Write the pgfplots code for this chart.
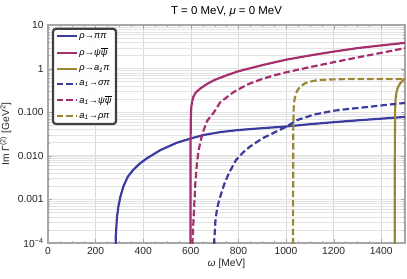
\documentclass[border=0pt]{standalone}
\usepackage{fontspec}
\setmainfont{Liberation Sans}
\usepackage{pgfplots}
\pgfplotsset{compat=1.18}
\definecolor{cblue}{RGB}{60,60,160}
\definecolor{cmag}{RGB}{165,48,110}
\definecolor{colive}{RGB}{155,135,55}
\begin{document}
\begin{tikzpicture}
\begin{axis}[
  scale only axis, width=357bp, height=218bp,
  ymode=log, xmin=0, xmax=1500, ymin=1e-4, ymax=10,
  xtick={0,200,...,1400}, minor x tick num=3,
  ytick={1e-4,1e-3,1e-2,1e-1,1,10},
  yticklabels={10\textsuperscript{\textminus4},0.001,0.010,0.100,1,10},
  /pgf/number format/assume math mode=true,
  /pgf/number format/1000 sep={},
  ticklabel style={font=\fontsize{10.3}{12}\selectfont, text=black!85},
  xmajorgrids, ymajorgrids, yminorgrids,
  major x grid style={gray!30, line width=0.6pt},
  major y grid style={gray!22, line width=1.3pt},
  minor y grid style={gray!22, line width=0.5pt},
  axis line style={draw=gray!70},
  tick style={draw=gray!70},
  tick align=inside, major tick length=4bp, minor tick length=2bp,
  title={T = 0 MeV, \textit{μ} = 0 MeV},
  title style={font=\fontsize{11.5}{13}\selectfont, yshift=-2pt},
  xlabel={\textit{ω} [MeV]},
  ylabel={Im Γ\textsuperscript{(2)} [GeV\textsuperscript{2}]},
  label style={font=\fontsize{10.3}{12}\selectfont, text=black!85},
  xlabel style={yshift=3pt},
  ylabel style={yshift=-1pt},
  legend style={at={(0.011,0.988)}, anchor=north west, draw=black!75, rounded corners=3pt,
    font=\itshape\fontsize{9.3}{11}\selectfont, row sep=4.3pt, inner sep=2.5pt,
    fill=white, fill opacity=0.9, text opacity=1},
  legend cell align=left,
  legend image code/.code={\draw[#1, line width=2pt] (0bp,0bp) -- (20bp,0bp);},
  line width=2.2pt,
  clip=true,
]
\addplot[cblue] coordinates {
(283,1e-6)(285,1.5e-4)(290,4e-4)(296,7e-4)(305,1.2e-3)(317,2e-3)(335,3.3e-3)
(359,4.8e-3)(385,6.6e-3)(415,8.7e-3)(472,0.0135)(542,0.020)(600,0.025)(654,0.030)
(724,0.035)(800,0.039)(900,0.043)(1000,0.047)(1100,0.053)(1200,0.059)(1300,0.065)
(1400,0.071)(1500,0.078)};
\addlegendentry{ρ→ππ}
\addplot[cmag] coordinates {
(598,1e-6)(598.5,1e-3)(599,0.02)(600,0.07)(602,0.13)(605,0.17)(610,0.22)(620,0.28)
(640,0.35)(670,0.45)(700,0.55)(750,0.70)(800,0.87)(900,1.2)(1000,1.6)(1100,2.0)
(1200,2.45)(1300,2.95)(1400,3.4)(1500,3.9)};
\addlegendentry{ρ→ψ$\overline{\mbox{\itshape ψ}}$}
\addplot[colive] coordinates {
(1456,1e-6)(1457,1e-3)(1457.5,0.03)(1458.5,0.12)(1461,0.22)(1465,0.30)(1470,0.37)
(1480,0.46)(1490,0.53)(1500,0.59)};
\addlegendentry{ρ→a\textsubscript{1}π}
\addplot[cblue, dash pattern=on 6.5bp off 3bp] coordinates {
(697,1e-6)(698,1e-4)(703,3e-4)(710,6e-4)(720,1e-3)(740,2.2e-3)(760,4e-3)(790,8e-3)
(820,0.012)(850,0.0165)(900,0.025)(950,0.034)(1000,0.046)(1047,0.066)(1117,0.088)
(1200,0.108)(1258,0.118)(1350,0.133)(1420,0.147)(1500,0.163)};
\addlegendentry{a\textsubscript{1}→σπ}
\addplot[cmag, dash pattern=on 6.5bp off 3bp] coordinates {
(606,1e-6)(607,1e-4)(612,4e-4)(619,2.3e-3)(626,7e-3)(633,0.0135)(643,0.024)(654,0.039)
(670,0.065)(696,0.097)(724,0.17)(780,0.29)(837,0.43)(900,0.58)(950,0.70)(1000,0.82)
(1100,1.08)(1200,1.40)(1300,1.80)(1400,2.3)(1500,2.95)};
\addlegendentry{a\textsubscript{1}→ψ$\overline{\mbox{\itshape ψ}}$}
\addplot[colive, dash pattern=on 6.5bp off 3bp] coordinates {
(1029,1e-6)(1030,1e-3)(1030.5,0.03)(1032,0.12)(1036,0.20)(1042,0.27)(1050,0.33)
(1061,0.39)(1080,0.46)(1100,0.50)(1130,0.54)(1170,0.56)(1250,0.575)(1350,0.58)
(1450,0.58)(1500,0.58)};
\addlegendentry{a\textsubscript{1}→ρπ}
\end{axis}
\pgfresetboundingbox
\path[use as bounding box] ([xshift=-48bp,yshift=-36bp]current axis.south west) rectangle ([xshift=2bp,yshift=25bp]current axis.north east);
\end{tikzpicture}
\end{document}
